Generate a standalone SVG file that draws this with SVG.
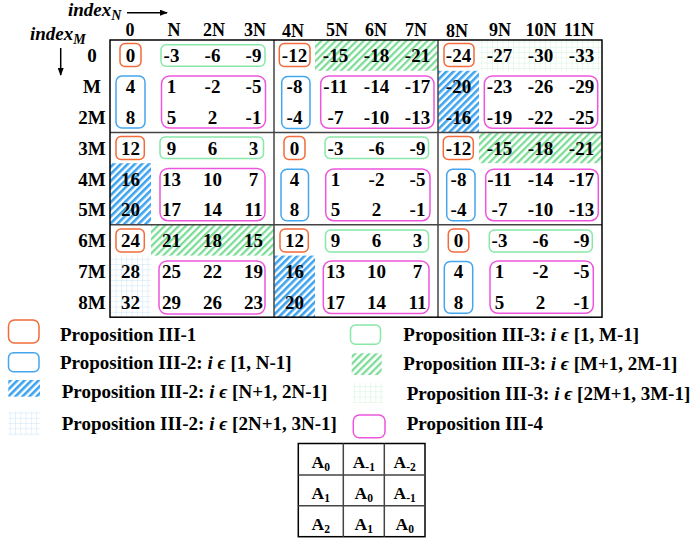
<svg xmlns="http://www.w3.org/2000/svg" width="691" height="543" viewBox="0 0 691 543">
<style>
text{font-family:"Liberation Serif","DejaVu Serif",serif;font-weight:bold;fill:#000}
.n{font-size:19px;text-anchor:middle}
.a{font-size:17.5px;text-anchor:middle}
.h{font-size:18px;text-anchor:middle}
.lg{font-size:19px}
.it{font-style:italic}
.bo{fill:none;stroke:#f26b3a;stroke-width:1.5}
.bb{fill:none;stroke:#45a6ee;stroke-width:1.5}
.bg{fill:none;stroke:#88e8a8;stroke-width:1.5}
.bm{fill:none;stroke:#ee55dd;stroke-width:1.5}
.in{stroke:#444;stroke-width:1.5}
.out{fill:none;stroke:#000;stroke-width:1.5}
</style>
<defs>
<pattern id="hb" width="5" height="5" patternUnits="userSpaceOnUse" patternTransform="rotate(45)"><rect width="2.6" height="5" fill="#3da3ef"/></pattern>
<pattern id="hg" width="5" height="5" patternUnits="userSpaceOnUse" patternTransform="rotate(45)"><rect width="2.3" height="5" fill="#7ddc97"/></pattern>
<pattern id="gb" width="5.3" height="5.3" patternUnits="userSpaceOnUse"><path d="M5.3 0V5.3M0 5.3H5.3" stroke="#c6e1f8" stroke-width="0.9" fill="none"/></pattern>
<pattern id="gg" width="5.3" height="5.3" patternUnits="userSpaceOnUse"><path d="M5.3 0V5.3M0 5.3H5.3" stroke="#cdf2d8" stroke-width="0.9" fill="none"/></pattern>
<marker id="ar" markerWidth="8" markerHeight="6" refX="7" refY="3" orient="auto" markerUnits="userSpaceOnUse"><path d="M0 0L8 3L0 6Z" fill="#000"/></marker>
</defs>

<g id="axes">
<text x="68" y="16" class="it" font-size="19">index<tspan dy="4" font-size="14">N</tspan></text>
<line x1="127" y1="12.7" x2="167" y2="12.7" stroke="#000" stroke-width="1.5" marker-end="url(#ar)"/>
<text x="30" y="40" class="it" font-size="19">index<tspan dy="4" font-size="14">M</tspan></text>
<line x1="60.7" y1="48" x2="60.7" y2="75" stroke="#000" stroke-width="1.5" marker-end="url(#ar)"/>
</g>

<g id="col-headers">
<text class="h" x="130" y="36">0</text><text class="h" x="174" y="36">N</text><text class="h" x="214" y="36">2N</text><text class="h" x="255" y="36">3N</text>
<text class="h" x="293" y="37">4N</text><text class="h" x="337" y="36">5N</text><text class="h" x="376" y="36">6N</text><text class="h" x="416" y="36">7N</text>
<text class="h" x="457" y="37">8N</text><text class="h" x="500" y="36">9N</text><text class="h" x="541" y="36">10N</text><text class="h" x="579" y="36">11N</text>
</g>

<g id="row-labels">
<text class="n" x="92" y="62.4">0</text><text class="n" x="92" y="93.2">M</text><text class="n" x="92" y="124">2M</text>
<text class="n" x="92" y="154.8">3M</text><text class="n" x="92" y="185.6">4M</text><text class="n" x="92" y="216.4">5M</text>
<text class="n" x="92" y="247.2">6M</text><text class="n" x="92" y="278">7M</text><text class="n" x="92" y="308.8">8M</text>
</g>

<g id="fills">
<rect x="315" y="40" width="123" height="30.8" fill="url(#hg)"/>
<rect x="479" y="132.4" width="123" height="30.8" fill="url(#hg)"/>
<rect x="151" y="224.8" width="123" height="30.8" fill="url(#hg)"/>
<rect x="479" y="40" width="123" height="30.8" fill="url(#gg)"/>
<rect x="438" y="70.8" width="41" height="61.6" fill="url(#hb)"/>
<rect x="110" y="163.2" width="41" height="61.6" fill="url(#hb)"/>
<rect x="274" y="255.6" width="41" height="61.6" fill="url(#hb)"/>
<rect x="110" y="255.6" width="41" height="61.6" fill="url(#gb)"/>
</g>

<g id="grid-lines">
<line class="in" x1="274" y1="40" x2="274" y2="317.2"/>
<line class="in" x1="438" y1="40" x2="438" y2="317.2"/>
<line class="in" x1="110" y1="132.4" x2="602" y2="132.4"/>
<line class="in" x1="110" y1="224.8" x2="602" y2="224.8"/>
<rect class="out" x="110" y="40" width="492" height="277.2"/>
</g>

<g id="boxes">
<rect class="bo" x="120" y="43.5" width="21" height="23" rx="5"/>
<rect class="bo" x="279.3" y="43.5" width="30.7" height="23" rx="5"/>
<rect class="bo" x="444" y="43.5" width="30" height="23" rx="5"/>
<rect class="bo" x="116" y="136.5" width="28.3" height="23" rx="5"/>
<rect class="bo" x="284" y="136.5" width="21" height="23" rx="5"/>
<rect class="bo" x="443.3" y="136.5" width="30" height="23" rx="5"/>
<rect class="bo" x="116" y="229" width="28.3" height="23" rx="5"/>
<rect class="bo" x="280" y="229" width="28.3" height="23" rx="5"/>
<rect class="bo" x="448.3" y="229" width="20.5" height="23" rx="5"/>

<rect class="bg" x="161" y="44.8" width="104" height="21.5" rx="5"/>
<rect class="bg" x="160" y="137" width="103.5" height="21.5" rx="5"/>
<rect class="bg" x="325" y="137" width="103.5" height="21.5" rx="5"/>
<rect class="bg" x="325.5" y="230" width="103" height="22" rx="5"/>
<rect class="bg" x="489.3" y="230" width="103" height="22" rx="5"/>

<rect class="bb" x="116" y="76" width="29" height="52" rx="6"/>
<rect class="bb" x="281.7" y="76.5" width="28.3" height="52" rx="6"/>
<rect class="bb" x="281" y="169.3" width="27.5" height="51.4" rx="6"/>
<rect class="bb" x="446.7" y="169.3" width="28.3" height="51.4" rx="6"/>
<rect class="bb" x="444.3" y="261.5" width="28.4" height="51.8" rx="6"/>

<rect class="bm" x="161.5" y="76" width="104" height="52" rx="8"/>
<rect class="bm" x="320.7" y="76" width="113.3" height="52.3" rx="8"/>
<rect class="bm" x="484.3" y="76" width="113.4" height="52.3" rx="8"/>
<rect class="bm" x="160" y="168.5" width="105" height="52.2" rx="8"/>
<rect class="bm" x="325.7" y="169" width="104.3" height="51.7" rx="8"/>
<rect class="bm" x="485.7" y="169.3" width="112.6" height="51.4" rx="8"/>
<rect class="bm" x="159" y="261" width="106" height="53" rx="8"/>
<rect class="bm" x="323.3" y="261" width="105.7" height="52.5" rx="8"/>
<rect class="bm" x="490" y="261" width="103.3" height="52.3" rx="8"/>
</g>

<g id="numbers">
<text class="n" x="130.5" y="62.4">0</text><text class="n" x="171.5" y="62.4">-3</text><text class="n" x="212.5" y="62.4">-6</text><text class="n" x="253.5" y="62.4">-9</text>
<text class="n" x="294.5" y="62.4">-12</text><text class="n" x="335.5" y="62.4">-15</text><text class="n" x="376.5" y="62.4">-18</text><text class="n" x="417.5" y="62.4">-21</text>
<text class="n" x="458.5" y="62.4">-24</text><text class="n" x="499.5" y="62.4">-27</text><text class="n" x="540.5" y="62.4">-30</text><text class="n" x="581.5" y="62.4">-33</text>

<text class="n" x="130.5" y="93.2">4</text><text class="n" x="171.5" y="93.2">1</text><text class="n" x="212.5" y="93.2">-2</text><text class="n" x="253.5" y="93.2">-5</text>
<text class="n" x="294.5" y="93.2">-8</text><text class="n" x="335.5" y="93.2">-11</text><text class="n" x="376.5" y="93.2">-14</text><text class="n" x="417.5" y="93.2">-17</text>
<text class="n" x="458.5" y="93.2">-20</text><text class="n" x="499.5" y="93.2">-23</text><text class="n" x="540.5" y="93.2">-26</text><text class="n" x="581.5" y="93.2">-29</text>

<text class="n" x="130.5" y="124">8</text><text class="n" x="171.5" y="124">5</text><text class="n" x="212.5" y="124">2</text><text class="n" x="253.5" y="124">-1</text>
<text class="n" x="294.5" y="124">-4</text><text class="n" x="335.5" y="124">-7</text><text class="n" x="376.5" y="124">-10</text><text class="n" x="417.5" y="124">-13</text>
<text class="n" x="458.5" y="124">-16</text><text class="n" x="499.5" y="124">-19</text><text class="n" x="540.5" y="124">-22</text><text class="n" x="581.5" y="124">-25</text>

<text class="n" x="130.5" y="154.8">12</text><text class="n" x="171.5" y="154.8">9</text><text class="n" x="212.5" y="154.8">6</text><text class="n" x="253.5" y="154.8">3</text>
<text class="n" x="294.5" y="154.8">0</text><text class="n" x="335.5" y="154.8">-3</text><text class="n" x="376.5" y="154.8">-6</text><text class="n" x="417.5" y="154.8">-9</text>
<text class="n" x="458.5" y="154.8">-12</text><text class="n" x="499.5" y="154.8">-15</text><text class="n" x="540.5" y="154.8">-18</text><text class="n" x="581.5" y="154.8">-21</text>

<text class="n" x="130.5" y="185.6">16</text><text class="n" x="171.5" y="185.6">13</text><text class="n" x="212.5" y="185.6">10</text><text class="n" x="253.5" y="185.6">7</text>
<text class="n" x="294.5" y="185.6">4</text><text class="n" x="335.5" y="185.6">1</text><text class="n" x="376.5" y="185.6">-2</text><text class="n" x="417.5" y="185.6">-5</text>
<text class="n" x="458.5" y="185.6">-8</text><text class="n" x="499.5" y="185.6">-11</text><text class="n" x="540.5" y="185.6">-14</text><text class="n" x="581.5" y="185.6">-17</text>

<text class="n" x="130.5" y="216.4">20</text><text class="n" x="171.5" y="216.4">17</text><text class="n" x="212.5" y="216.4">14</text><text class="n" x="253.5" y="216.4">11</text>
<text class="n" x="294.5" y="216.4">8</text><text class="n" x="335.5" y="216.4">5</text><text class="n" x="376.5" y="216.4">2</text><text class="n" x="417.5" y="216.4">-1</text>
<text class="n" x="458.5" y="216.4">-4</text><text class="n" x="499.5" y="216.4">-7</text><text class="n" x="540.5" y="216.4">-10</text><text class="n" x="581.5" y="216.4">-13</text>

<text class="n" x="130.5" y="247.2">24</text><text class="n" x="171.5" y="247.2">21</text><text class="n" x="212.5" y="247.2">18</text><text class="n" x="253.5" y="247.2">15</text>
<text class="n" x="294.5" y="247.2">12</text><text class="n" x="335.5" y="247.2">9</text><text class="n" x="376.5" y="247.2">6</text><text class="n" x="417.5" y="247.2">3</text>
<text class="n" x="458.5" y="247.2">0</text><text class="n" x="499.5" y="247.2">-3</text><text class="n" x="540.5" y="247.2">-6</text><text class="n" x="581.5" y="247.2">-9</text>

<text class="n" x="130.5" y="278">28</text><text class="n" x="171.5" y="278">25</text><text class="n" x="212.5" y="278">22</text><text class="n" x="253.5" y="278">19</text>
<text class="n" x="294.5" y="278">16</text><text class="n" x="335.5" y="278">13</text><text class="n" x="376.5" y="278">10</text><text class="n" x="417.5" y="278">7</text>
<text class="n" x="458.5" y="278">4</text><text class="n" x="499.5" y="278">1</text><text class="n" x="540.5" y="278">-2</text><text class="n" x="581.5" y="278">-5</text>

<text class="n" x="130.5" y="308.8">32</text><text class="n" x="171.5" y="308.8">29</text><text class="n" x="212.5" y="308.8">26</text><text class="n" x="253.5" y="308.8">23</text>
<text class="n" x="294.5" y="308.8">20</text><text class="n" x="335.5" y="308.8">17</text><text class="n" x="376.5" y="308.8">14</text><text class="n" x="417.5" y="308.8">11</text>
<text class="n" x="458.5" y="308.8">8</text><text class="n" x="499.5" y="308.8">5</text><text class="n" x="540.5" y="308.8">2</text><text class="n" x="581.5" y="308.8">-1</text>
</g>

<g id="legend">
<rect class="bo" x="8.5" y="320" width="30.5" height="23" rx="6"/>
<text class="lg" x="60" y="341">Proposition III-1</text>
<rect class="bb" x="8.5" y="352.7" width="30.5" height="19" rx="5"/>
<text class="lg" x="60" y="369">Proposition III-2: <tspan class="it">i ϵ</tspan> [1, N-1]</text>
<rect x="8.3" y="380" width="31.7" height="16.7" fill="url(#hb)"/>
<text class="lg" x="61.7" y="398">Proposition III-2: <tspan class="it">i ϵ</tspan> [N+1, 2N-1]</text>
<rect x="8.3" y="411.7" width="31.7" height="23.3" fill="url(#gb)"/>
<text class="lg" x="61.7" y="430">Proposition III-2: <tspan class="it">i ϵ</tspan> [2N+1, 3N-1]</text>

<rect class="bg" x="350.5" y="325" width="30" height="19.3" rx="5"/>
<text class="lg" x="403.3" y="341">Proposition III-3: <tspan class="it">i ϵ</tspan> [1, M-1]</text>
<rect x="351.7" y="353.3" width="30" height="21.7" fill="url(#hg)"/>
<text class="lg" x="403.3" y="370">Proposition III-3: <tspan class="it">i ϵ</tspan> [M+1, 2M-1]</text>
<rect x="353" y="383" width="30" height="20" fill="url(#gg)"/>
<text class="lg" x="406.7" y="400">Proposition III-3: <tspan class="it">i ϵ</tspan> [2M+1, 3M-1]</text>
<rect class="bm" x="353.3" y="415" width="31.7" height="22.7" rx="6"/>
<text class="lg" x="406.7" y="430">Proposition III-4</text>
</g>

<g id="matrix">
<rect class="out" x="298.3" y="443.5" width="126.7" height="93.2"/>
<line class="in" x1="343.3" y1="443.5" x2="343.3" y2="536.7"/>
<line class="in" x1="384.3" y1="443.5" x2="384.3" y2="536.7"/>
<line class="in" x1="298.3" y1="475" x2="425" y2="475"/>
<line class="in" x1="298.3" y1="505.7" x2="425" y2="505.7"/>
<text class="a" x="320.8" y="468">A<tspan dy="3" font-size="11.5">0</tspan></text>
<text class="a" x="363.8" y="468">A<tspan dy="3" font-size="11.5">-1</tspan></text>
<text class="a" x="404.7" y="468">A<tspan dy="3" font-size="11.5">-2</tspan></text>
<text class="a" x="320.8" y="499">A<tspan dy="3" font-size="11.5">1</tspan></text>
<text class="a" x="363.8" y="499">A<tspan dy="3" font-size="11.5">0</tspan></text>
<text class="a" x="404.7" y="499">A<tspan dy="3" font-size="11.5">-1</tspan></text>
<text class="a" x="320.8" y="530">A<tspan dy="3" font-size="11.5">2</tspan></text>
<text class="a" x="363.8" y="530">A<tspan dy="3" font-size="11.5">1</tspan></text>
<text class="a" x="404.7" y="530">A<tspan dy="3" font-size="11.5">0</tspan></text>
</g>
</svg>
